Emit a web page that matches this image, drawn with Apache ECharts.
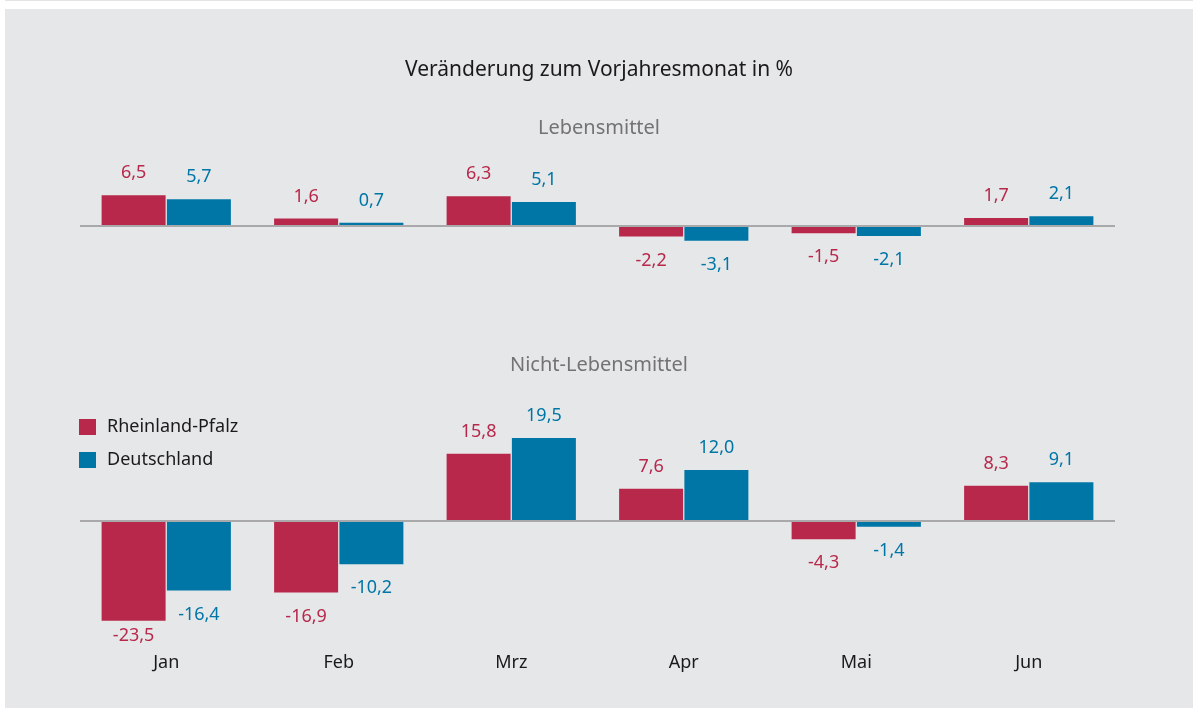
<!DOCTYPE html>
<html>
<head>
<meta charset="utf-8">
<script src="https://cdn.jsdelivr.net/npm/echarts@6/dist/echarts.min.js"></script>
<style>
  html, body { margin: 0; padding: 0; background: #fff; }
  #topline { position: absolute; left: 5px; top: 0; width: 1188px; height: 1px; background: #e3e4e6; }
  #chart { position: absolute; left: 5px; top: 9px; width: 1188px; height: 699px; background: #e6e7e9; }
</style>
</head>
<body>
<div id="topline"></div>
<div id="chart"></div>
<script>
// Veränderung zum Vorjahresmonat in %
const months = ['Jan', 'Feb', 'Mrz', 'Apr', 'Mai', 'Jun']
const seriesNames = ['Rheinland-Pfalz', 'Deutschland']
const lebensmittelRP = [6.5, 1.6, 6.3, -2.2, -1.5, 1.7]
const lebensmittelDE = [5.7, 0.7, 5.1, -3.1, -2.1, 2.1]
const nichtLebensmittelRP = [-23.5, -16.9, 15.8, 7.6, -4.3, 8.3]
const nichtLebensmittelDE = [-16.4, -10.2, 19.5, 12.0, -1.4, 9.1]

const colors = ['#b7284b', '#0076a6']
const font = '"Noto Sans", "Open Sans", sans-serif'
const fmt = v => v.toFixed(1).replace('.', ',')

function barSeries(name, values, color, idx) {
  return {
    name: name,
    type: 'bar',
    xAxisIndex: idx,
    yAxisIndex: idx,
    barWidth: 64,
    barGap: '2%',
    itemStyle: { color: color },
    data: values.map(v => ({
      value: v,
      label: {
        position: v >= 0 ? 'top' : 'bottom',
        distance: v < -20 ? 6 : (v >= 0 ? 13 : 15)
      }
    })),
    label: {
      show: true,
      color: color,
      fontSize: 18,
      fontFamily: font,
      formatter: p => fmt(p.value)
    },
    // zero line, drawn once per grid
    markLine: name === seriesNames[0] ? {
      silent: true,
      symbol: 'none',
      label: { show: false },
      lineStyle: { color: '#a9a9ab', width: 2, type: 'solid' },
      data: [{ yAxis: 0 }]
    } : undefined
  }
}

const chart = echarts.init(document.getElementById('chart'), null, { renderer: 'canvas' })

const xAxisBase = {
  type: 'category',
  data: months,
  axisLine: { show: false, onZero: false },
  axisTick: { show: false }
}

chart.setOption({
  backgroundColor: 'transparent',
  animation: false,
  title: [
    {
      text: 'Veränderung zum Vorjahresmonat in %',
      left: 'center', top: 46,
      textStyle: { color: '#1a1a1a', fontSize: 21, fontWeight: 'normal', fontFamily: font }
    },
    {
      text: 'Lebensmittel',
      left: 'center', top: 104,
      textStyle: { color: '#737373', fontSize: 20, fontWeight: 'normal', fontFamily: font }
    },
    {
      text: 'Nicht-Lebensmittel',
      left: 'center', top: 341,
      textStyle: { color: '#737373', fontSize: 20, fontWeight: 'normal', fontFamily: font }
    }
  ],
  legend: {
    data: seriesNames,
    orient: 'vertical',
    left: 74,
    top: 409,
    padding: 0,
    itemWidth: 17,
    itemHeight: 16,
    itemGap: 15,
    icon: 'rect',
    textStyle: { color: '#1a1a1a', fontSize: 18, fontFamily: font, padding: [0, 0, 0, 6] }
  },
  grid: [
    { left: 75, right: 78, top: 184, height: 52 },
    { left: 75, right: 78, top: 427, height: 191 }
  ],
  xAxis: [
    Object.assign({ gridIndex: 0 }, xAxisBase, { axisLabel: { show: false } }),
    Object.assign({ gridIndex: 1 }, xAxisBase, {
      axisLabel: { color: '#1a1a1a', fontSize: 18, fontFamily: font, margin: 27 }
    })
  ],
  yAxis: [
    { gridIndex: 0, type: 'value', min: -4, max: 7, show: false, splitLine: { show: false } },
    { gridIndex: 1, type: 'value', min: -25, max: 20, show: false, splitLine: { show: false } }
  ],
  series: [
    barSeries(seriesNames[0], lebensmittelRP, colors[0], 0),
    barSeries(seriesNames[1], lebensmittelDE, colors[1], 0),
    barSeries(seriesNames[0], nichtLebensmittelRP, colors[0], 1),
    barSeries(seriesNames[1], nichtLebensmittelDE, colors[1], 1)
  ]
})
</script>
</body>
</html>
